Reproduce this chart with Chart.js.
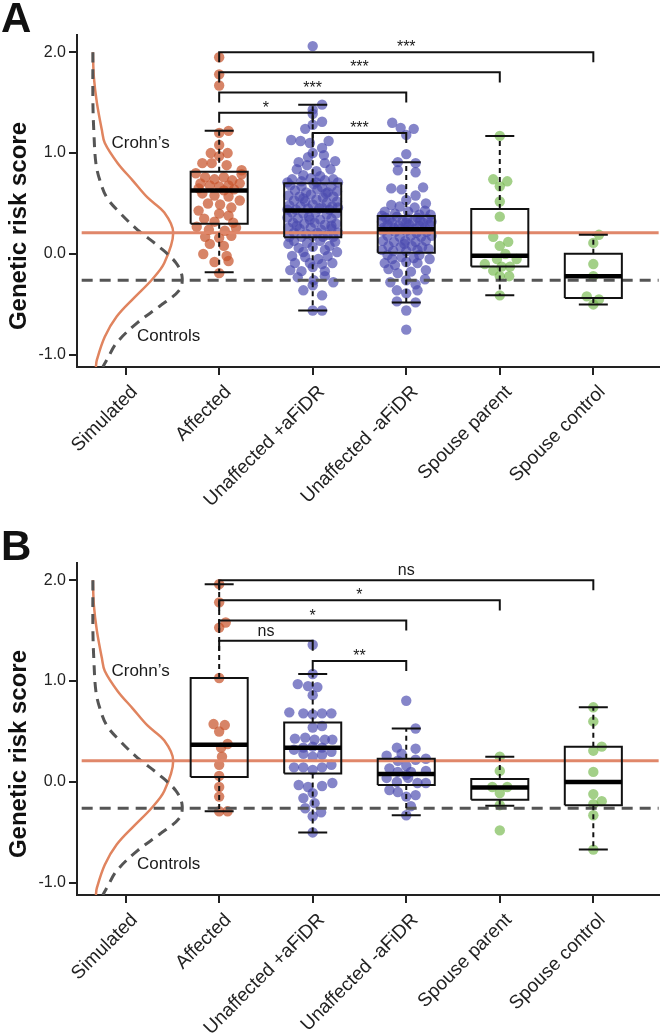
<!DOCTYPE html>
<html>
<head>
<meta charset="utf-8">
<script src="https://cdn.jsdelivr.net/npm/chart.js@4.4.0/dist/chart.umd.min.js"></script>
<style>
body{margin:0;background:#fff;}
#wrap{position:relative;width:664px;height:1034px;}
.panel{position:absolute;left:0;}
</style>
</head>
<body>
<div id="wrap">
<div class="panel" style="top:0"><canvas id="chartA" width="664" height="528"></canvas></div>
<div class="panel" style="top:528px"><canvas id="chartB" width="664" height="506"></canvas></div>
</div>
<script>
var categories = ['Simulated', 'Affected', 'Unaffected +aFiDR', 'Unaffected -aFiDR', 'Spouse parent', 'Spouse control'];
var yTicks = [-1, 0, 1, 2];
var crohnsMean = 0.21;
var controlsMean = -0.26;

// simulated densities: [score, density]
var crohnsDensity = [[2.0,0],[1.75,0.01],[1.5,0.04],[1.23,0.09],[1.10,0.12],[0.90,0.25],[0.73,0.40],[0.56,0.55],[0.41,0.72],[0.21,0.81],[-0.09,0.72],[-0.26,0.59],[-0.43,0.42],[-0.62,0.24],[-0.82,0.12],[-1.05,0.04],[-1.12,0.03]];
var controlsDensity = [[2.0,0],[1.5,0],[1.2,0.01],[0.9,0.03],[0.73,0.07],[0.56,0.14],[0.41,0.27],[0.24,0.45],[0.07,0.67],[-0.09,0.84],[-0.23,0.90],[-0.36,0.87],[-0.52,0.67],[-0.68,0.45],[-0.88,0.24],[-1.05,0.14],[-1.12,0.10]];

// box stats per group (Affected..Spouse control): [low whisker, q1, median, q3, high whisker]
var statsA = [[-0.18,0.30,0.63,0.815,1.22],[-0.56,0.165,0.43,0.70,1.48],[-0.48,0.013,0.245,0.376,0.91],[-0.41,-0.125,-0.017,0.445,1.17],[-0.50,-0.435,-0.22,0.003,0.19]];
var statsB = [[-0.29,0.05,0.37,1.03,1.96],[-0.50,0.085,0.34,0.59,1.07],[-0.33,-0.03,0.08,0.23,0.53],[-0.235,-0.175,-0.055,0.03,0.25],[-0.67,-0.23,0.0,0.35,0.74]];

// significance tests: [group, group] and label
var pairsA = [[1,5],[1,4],[1,3],[1,2],[2,3]];
var sigA = ['***','***','***','*','***'];
var pairsB = [[1,5],[1,4],[1,3],[1,2],[2,3]];
var sigB = ['ns','*','*','ns','**'];

// individual scores: [jitter, score]
var affectedA = [[0,1.95],[0,1.78],[0,1.67],[0.1,1.22],[0,1.20],[0,1.08],[-0.09,1.0],[0.09,1.0],[0,0.97],[-0.18,0.90],[-0.08,0.90],[0.08,0.88],[0.24,0.83],
  [-0.25,0.80],[0.24,0.79],[-0.15,0.76],[-0.05,0.74],[0.05,0.76],[0.14,0.73],[-0.2,0.70],[0.22,0.70],[-0.1,0.68],[0,0.67],[0.1,0.68],[-0.22,0.65],[0.16,0.64],[0.05,0.63],
  [-0.18,0.60],[-0.05,0.58],[0.1,0.57],[0.22,0.53],[-0.12,0.50],[0.01,0.49],[0.13,0.46],[-0.22,0.43],[0,0.40],[0.1,0.38],[-0.16,0.35],[-0.05,0.32],[0.15,0.31],
  [-0.24,0.27],[-0.11,0.24],[0.06,0.23],[0.18,0.26],[-0.15,0.17],[0,0.16],[0.13,0.18],[-0.1,0.10],[0.05,0.08],[-0.17,0.0],[0.08,-0.02],[-0.05,-0.08],[0.1,-0.07],[0,-0.19]];
var unaffPlusA = [[0,2.06],[0.1,1.48],[0,1.43],[0,1.39],[0.1,1.31],[0,1.28],[-0.08,1.24],[-0.23,1.13],[-0.13,1.12],[-0.03,1.10],[0.17,1.12],[0.1,1.05],[0,1.00],[-0.15,0.91],[-0.06,0.88],[0.13,0.90],
  [0.24,0.92],[0.04,0.82],[-0.1,0.78],[-0.22,0.74],[0.13,0.73],[0.22,0.74],[-0.02,0.75],[0.08,0.77],[-0.17,0.84],[0.19,0.84],[-0.27,0.71],[0.04,0.71],[-0.12,0.72],[0.27,0.71],[-0.05,0.96],[0.12,0.98],
  [-0.24,0.68],[-0.12,0.67],[0.01,0.69],[0.1,0.66],[0.2,0.67],[-0.19,0.63],[-0.07,0.61],[0.05,0.64],[0.16,0.61],[0.26,0.62],[-0.26,0.58],[-0.14,0.57],[-0.02,0.59],[0.11,0.56],[0.22,0.57],
  [-0.2,0.53],[-0.08,0.52],[0.04,0.54],[0.15,0.51],[0.26,0.52],[-0.25,0.48],[-0.13,0.47],[0.0,0.49],[0.1,0.46],[0.21,0.47],[-0.18,0.44],[-0.05,0.45],[0.07,0.45],[0.18,0.44],[-0.27,0.44],[0.27,0.46],[-0.1,0.55],[0.14,0.6],
  [-0.22,0.41],[-0.1,0.40],[0.03,0.41],[0.15,0.39],[0.25,0.40],[-0.27,0.36],[-0.16,0.35],[-0.04,0.37],[0.08,0.34],[0.2,0.35],[-0.21,0.31],[-0.09,0.30],[0.02,0.31],[0.13,0.29],[0.25,0.30],
  [-0.26,0.26],[-0.14,0.25],[-0.02,0.26],[0.09,0.24],[0.2,0.25],[-0.2,0.21],[-0.07,0.20],[0.05,0.21],[0.16,0.19],[0.27,0.21],[-0.25,0.17],[-0.12,0.17],[0.0,0.18],[0.11,0.17],[0.22,0.17],[-0.03,0.34],[0.2,0.28],[-0.17,0.28],
  [0.24,0.12],[-0.26,0.10],[-0.15,0.06],[0.0,0.07],[0.13,0.04],[-0.08,-0.03],[0.06,-0.05],[0.21,-0.09],[-0.19,-0.09],[0.0,-0.13],[0.13,-0.17],[-0.12,-0.17],[-0.24,-0.16],[0.01,-0.26],[0.13,-0.22],[0.0,-0.31],
  [-0.1,-0.36],[0.1,-0.41],[0,-0.56],[0.1,-0.56],[-0.2,0.13],[0.08,0.13],[-0.06,0.11],[0.18,0.08],[-0.1,0.02],[0.26,0.02],[-0.22,-0.02],[0.16,-0.02],[-0.03,-0.09],[0.1,-0.1],[-0.16,-0.23],[0.22,-0.28]];
var unaffMinusA = [[-0.15,1.30],[-0.06,1.25],[0.08,1.24],[0,1.18],[0,0.99],[-0.09,0.91],[0.1,0.90],[-0.09,0.83],[0.1,0.81],[0.18,0.66],[-0.16,0.65],[-0.05,0.64],[0.1,0.58],[0,0.535],[0.21,0.50],[-0.16,0.485],
  [-0.07,0.47],[0.09,0.46],[-0.23,0.42],[0.2,0.43],[0.02,0.42],[-0.12,0.40],[0.14,0.39],[-0.26,0.38],[0.26,0.39],
  [-0.22,0.36],[-0.1,0.37],[0.01,0.35],[0.12,0.36],[0.23,0.35],[-0.26,0.32],[-0.15,0.31],[-0.04,0.33],[0.07,0.32],[0.18,0.31],[-0.2,0.29],[-0.08,0.28],[0.03,0.29],[0.14,0.28],[0.25,0.29],
  [-0.24,0.26],[-0.13,0.255],[-0.01,0.26],[0.09,0.25],[0.2,0.26],[-0.18,0.34],[0.27,0.32],[0.0,0.31],[-0.06,0.25],[0.15,0.33],
  [-0.25,0.23],[-0.12,0.22],[0.0,0.23],[0.11,0.21],[0.22,0.22],[-0.2,0.18],[-0.07,0.17],[0.05,0.18],[0.16,0.17],[0.27,0.18],[-0.25,0.13],[-0.13,0.12],[-0.01,0.13],[0.1,0.12],[0.21,0.13],
  [-0.19,0.08],[-0.06,0.07],[0.06,0.08],[0.17,0.07],[-0.26,0.04],[-0.14,0.03],[0.0,0.03],[0.12,0.04],[0.24,0.05],[-0.02,0.1],
  [-0.2,-0.01],[0.14,-0.01],[-0.23,-0.09],[-0.12,-0.11],[0,-0.08],[0.12,-0.09],[0.21,-0.16],[-0.09,-0.19],[0.05,-0.175],[-0.19,-0.15],[0,-0.26],[-0.1,-0.36],[0.12,-0.36],[0,-0.39],[-0.1,-0.47],
  [0.1,-0.48],[0,-0.56],[0,-0.75],[0.25,-0.05],[-0.05,-0.03],[0.08,-0.04],[-0.15,-0.05],[0.2,-0.25],[-0.17,-0.28],[0.1,-0.3]];
var spouseParentA = [[0,1.17],[-0.07,0.74],[0.08,0.72],[0,0.67],[0,0.52],[0,0.37],[-0.07,0.17],[0.09,0.12],[0,0.08],[0.06,0.0],[-0.03,-0.05],[-0.16,-0.10],[0.18,-0.05],[-0.07,-0.165],[0.02,-0.125],[0.11,-0.125],[0,-0.22],[0.1,-0.22],[0,-0.41]];
var spouseControlA = [[0.06,0.19],[0,0.11],[0,-0.10],[0,-0.22],[-0.07,-0.42],[0.06,-0.45],[0,-0.50]];

var affectedB = [[0,1.96],[0,1.78],[0.07,1.58],[0,1.53],[0,1.03],[-0.06,0.574],[0.06,0.564],[0,0.50],[0.09,0.376],[0.02,0.34],[0.03,0.25],[0,0.17],[0,0.06],[0,-0.05],[0,-0.145],[0,-0.29],[0.09,-0.29]];
var unaffPlusB = [[0,1.36],[0,1.07],[-0.16,0.97],[-0.05,0.95],[0.05,0.94],[0,0.86],[-0.25,0.69],[-0.1,0.68],[0,0.67],[0.1,0.68],[0.2,0.68],[0,0.54],[0.1,0.555],[-0.19,0.43],[-0.08,0.44],[0.02,0.42],[0.13,0.42],[0.21,0.42],
  [-0.2,0.32],[-0.1,0.34],[0,0.35],[-0.1,0.28],[0,0.25],[0.1,0.27],[0.2,0.30],[0.1,0.34],[-0.2,0.145],[-0.1,0.145],[0,0.12],[0.1,0.145],[0.2,0.17],
  [-0.15,-0.03],[-0.05,-0.05],[0.1,-0.04],[0.21,-0.01],[-0.1,-0.16],[0,-0.11],[0.02,-0.21],[-0.08,-0.26],[0.09,-0.30],[0,-0.34],[0,-0.50]];
var unaffMinusB = [[0,0.805],[0.1,0.53],[-0.1,0.34],[0.1,0.33],[-0.05,0.28],[-0.21,0.26],[-0.09,0.21],[0,0.16],[0.21,0.23],[0.1,0.22],[-0.18,0.135],[-0.09,0.10],[0.05,0.10],[0.21,0.11],[0,0.07],
  [-0.21,0.04],[-0.1,0.0],[0.02,0.04],[0.12,-0.01],[0.21,-0.01],[-0.18,-0.08],[-0.09,-0.10],[0.1,-0.13],[0,-0.145],[0.05,-0.24],[0,-0.33]];
var spouseParentB = [[0,0.25],[0,0.11],[-0.08,-0.05],[0.08,-0.05],[0,-0.11],[0,-0.23],[0,-0.48]];
var spouseControlB = [[0,0.74],[0,0.60],[0.09,0.35],[0,0.31],[0,0.10],[0,-0.12],[0.09,-0.19],[0,-0.22],[0,-0.33],[0,-0.67]];

var FONT = "'Liberation Sans', Arial, Helvetica, sans-serif";
Chart.defaults.font.family = FONT;

var ORANGE_PT = 'rgba(200,85,45,0.72)';
var BLUE_PT = 'rgba(75,75,175,0.68)';
var GREEN_PT = 'rgba(120,185,80,0.68)';
var groupColors = [ORANGE_PT, BLUE_PT, BLUE_PT, GREEN_PT, GREEN_PT];
var bracketLevels = [2.0, 1.8, 1.6, 1.4, 1.2];

function seg(points, color, width, dash) {
  return {showLine: true, data: points, borderColor: color, borderWidth: width, borderDash: dash || [],
    pointRadius: 0, pointHoverRadius: 0, fill: false, tension: 0};
}

var annotate = {
  id: 'annotate',
  afterDatasetsDraw: function(chart, args, o) {
    var ctx = chart.ctx, xs = chart.scales.x, ys = chart.scales.y;
    ctx.save();
    ctx.fillStyle = '#1a1a1a';
    ctx.textAlign = 'center';
    ctx.textBaseline = 'alphabetic';
    ctx.font = '16px ' + FONT;
    o.pairs.forEach(function(p, k) {
      var lab = o.labels[k];
      var off = lab.indexOf('*') >= 0 ? 0 : 5;
      ctx.fillText(lab, xs.getPixelForValue((p[0] + p[1]) / 2), ys.getPixelForValue(bracketLevels[k]) - off);
    });
    ctx.font = '17px ' + FONT;
    ctx.textBaseline = 'middle';
    ctx.fillText('Crohn\u2019s', xs.getPixelForValue(0.16), ys.getPixelForValue(1.10));
    ctx.fillText('Controls', xs.getPixelForValue(0.46), ys.getPixelForValue(-0.82));
    ctx.restore();
  },
  afterDraw: function(chart, args, o) {
    var ctx = chart.ctx;
    ctx.save();
    ctx.fillStyle = '#111';
    ctx.font = 'bold 42px ' + FONT;
    ctx.textAlign = 'left';
    ctx.textBaseline = 'alphabetic';
    ctx.fillText(o.letter, 1, 32);
    ctx.translate(19, 226);
    ctx.rotate(-Math.PI / 2);
    ctx.font = 'bold 24px ' + FONT;
    ctx.textAlign = 'center';
    ctx.textBaseline = 'middle';
    ctx.fillText('Genetic risk score', 0, 0);
    ctx.restore();
  }
};

function makePanel(id, letter, groups, stats, pairs, labels) {
  var canvas = document.getElementById(id);
  var H = canvas.height;
  var ds = [];
  var halfBox = 0.305, halfCap = 0.155, drop = 0.1;

  // brackets
  pairs.forEach(function(p, k) {
    var h = bracketLevels[k];
    ds.push(seg([{x: p[0], y: h - drop}, {x: p[0], y: h}, {x: p[1], y: h}, {x: p[1], y: h - drop}], '#111', 2));
  });

  // boxes
  stats.forEach(function(s, k) {
    var c = k + 1;
    ds.push(seg([{x: c - halfBox, y: s[2]}, {x: c + halfBox, y: s[2]}], '#000', 4.5));
    ds.push(seg([{x: c - halfBox, y: s[1]}, {x: c + halfBox, y: s[1]}, {x: c + halfBox, y: s[3]}, {x: c - halfBox, y: s[3]}, {x: c - halfBox, y: s[1]}], '#111', 2));
    ds.push(seg([{x: c, y: s[3]}, {x: c, y: s[4]}], '#111', 2, [5, 4]));
    ds.push(seg([{x: c, y: s[1]}, {x: c, y: s[0]}], '#111', 2, [5, 4]));
    ds.push(seg([{x: c - halfCap, y: s[4]}, {x: c + halfCap, y: s[4]}], '#111', 2));
    ds.push(seg([{x: c - halfCap, y: s[0]}, {x: c + halfCap, y: s[0]}], '#111', 2));
  });

  // reference lines
  ds.push(seg([{x: -0.47, y: crohnsMean}, {x: 5.7, y: crohnsMean}], '#E0876A', 3));
  ds.push(seg([{x: -0.47, y: controlsMean}, {x: 5.7, y: controlsMean}], '#555', 3, [11, 7]));

  // individual points
  groups.forEach(function(g, k) {
    ds.push({
      data: g.map(function(p) { return {x: k + 1 + p[0], y: p[1]}; }),
      backgroundColor: groupColors[k], borderWidth: 0, pointRadius: 5.2, pointHoverRadius: 5.2
    });
  });

  // simulated densities on the Simulated column
  var base = -0.35, scaleW = 1.06;
  var dc = seg(crohnsDensity.map(function(d) { return {x: base + d[1] * scaleW, y: d[0]}; }), '#E0845F', 2.5);
  dc.tension = 0.35;
  var dn = seg(controlsDensity.map(function(d) { return {x: base + d[1] * scaleW, y: d[0]}; }), '#555', 3, [10, 7]);
  dn.tension = 0.35;
  ds.push(dn);
  ds.push(dc);

  return new Chart(canvas, {
    type: 'scatter',
    data: {datasets: ds},
    options: {
      responsive: false,
      animation: false,
      layout: {padding: {top: 35, left: 0, right: 0, bottom: 0}},
      plugins: {
        legend: {display: false},
        tooltip: {enabled: false},
        annotate: {letter: letter, pairs: pairs, labels: labels}
      },
      scales: {
        x: {
          type: 'linear', min: -0.52, max: 5.7,
          afterFit: function(s) { s.height = H - 367; },
          afterBuildTicks: function(s) { s.ticks = categories.map(function(c, i) { return {value: i}; }); },
          ticks: {autoSkip: false, minRotation: 45, maxRotation: 45, color: '#222', padding: 6, labelOffset: 9,
            font: {size: 19}, callback: function(v) { return categories[v]; }},
          grid: {drawOnChartArea: false, color: '#222', tickLength: 8, lineWidth: 2},
          border: {color: '#222', width: 2}
        },
        y: {
          min: -1.12, max: 2.17,
          afterFit: function(s) { s.width = 77; },
          afterBuildTicks: function(s) { s.ticks = yTicks.map(function(v) { return {value: v}; }); },
          ticks: {color: '#222', padding: 3, font: {size: 16}, callback: function(v) { return v.toFixed(1); }},
          grid: {drawOnChartArea: false, color: '#222', tickLength: 8, lineWidth: 2},
          border: {color: '#222', width: 2}
        }
      }
    },
    plugins: [annotate]
  });
}

makePanel('chartA', 'A', [affectedA, unaffPlusA, unaffMinusA, spouseParentA, spouseControlA], statsA, pairsA, sigA);
makePanel('chartB', 'B', [affectedB, unaffPlusB, unaffMinusB, spouseParentB, spouseControlB], statsB, pairsB, sigB);
</script>
</body>
</html>
